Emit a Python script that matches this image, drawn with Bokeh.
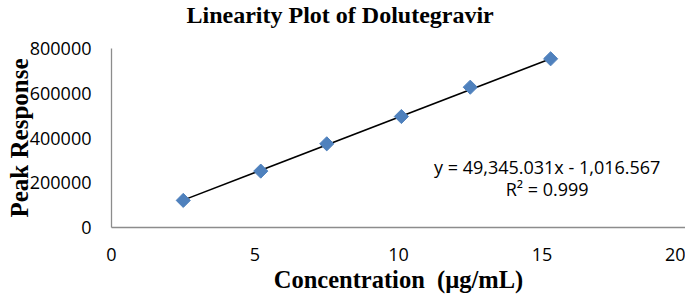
import numpy as np
from bokeh.plotting import figure
from bokeh.models import Range1d, FixedTicker, BasicTickFormatter, Label, Title
from bokeh.embed import file_html
from bokeh.resources import INLINE

# ---- data ----
conc = [2.5, 5.2, 7.5, 10.1, 12.5, 15.3]            # µg/mL
resp = [121000, 252000, 374000, 496000, 627000, 754000]
slope = 49345.031
intercept = -1016.567
r2_text = "R² = 0.999"
eq_text = "y = 49,345.031x - 1,016.567"
x_ticks = [0, 5, 10, 15, 20]
y_ticks = [0, 200000, 400000, 600000, 800000]
title_text = "Linearity Plot of Dolutegravir"
x_title = "Concentration \u00a0(µg/mL)"
y_title = "Peak Response"

SERIF = "Liberation Serif"
SANS = "Open Sans"

p = figure(width=685, height=301, output_backend="svg", toolbar_location=None,
           x_range=Range1d(0, 20), y_range=Range1d(0, 800000),
           min_border_left=111, min_border_right=0, min_border_top=48, min_border_bottom=74)
p.outline_line_color = None
p.xgrid.visible = False
p.ygrid.visible = False
p.background_fill_color = "white"
p.border_fill_color = "white"

p.title.text = title_text
p.title.text_font = SERIF
p.title.text_font_style = "bold"
p.title.text_font_size = "24px"
p.title.text_color = "black"
p.title.align = "left"
p.title.offset = 75
p.title.vertical_align = "top"
p.title.standoff = 0

# empty spacer between the frame and the title
spacer = Title(text="\u00a0", text_font_size="10px", standoff=6)
p.add_layout(spacer, "above")

for ax in (p.xaxis[0], p.yaxis[0]):
    ax.axis_line_color = "#8c8c8c"
    ax.axis_line_width = 1.3
    ax.major_tick_in = 0
    ax.major_tick_out = 0
    ax.minor_tick_in = 0
    ax.minor_tick_out = 0
    ax.major_label_text_font = SANS
    ax.major_label_text_font_size = "18px"
    ax.major_label_text_color = "black"
    ax.axis_label_text_font = SERIF
    ax.axis_label_text_font_style = "bold"
    ax.axis_label_text_color = "black"

p.xaxis.axis_label_text_font_size = "24.5px"
p.yaxis.axis_label_text_font_size = "25px"
p.xaxis.ticker = FixedTicker(ticks=x_ticks)
p.yaxis.ticker = FixedTicker(ticks=y_ticks)
p.yaxis.formatter = BasicTickFormatter(use_scientific=False)
p.xaxis.major_label_standoff = 20
p.yaxis.major_label_standoff = 20
p.xaxis.axis_label = x_title
p.yaxis.axis_label = y_title
p.xaxis.axis_label_standoff = 2
p.yaxis.axis_label_standoff = -6

# trend line over the data range
xl = np.array([min(conc), max(conc)])
p.line(xl, slope * xl + intercept, line_color="black", line_width=1.6)

p.scatter(conc, resp, marker="square", angle=np.pi / 4, size=10,
          fill_color="#4f81bd", line_color="#4f81bd")

p.add_layout(Label(x=15.18, y=272000, text=eq_text, text_align="center",
                   text_baseline="middle", text_font=SANS, text_font_size="18px",
                   text_color="black"))
p.add_layout(Label(x=15.18, y=170000, text=r2_text, text_align="center",
                   text_baseline="middle", text_font=SANS, text_font_size="18px",
                   text_color="black"))

open("out.html", "w").write(file_html(p, INLINE))
